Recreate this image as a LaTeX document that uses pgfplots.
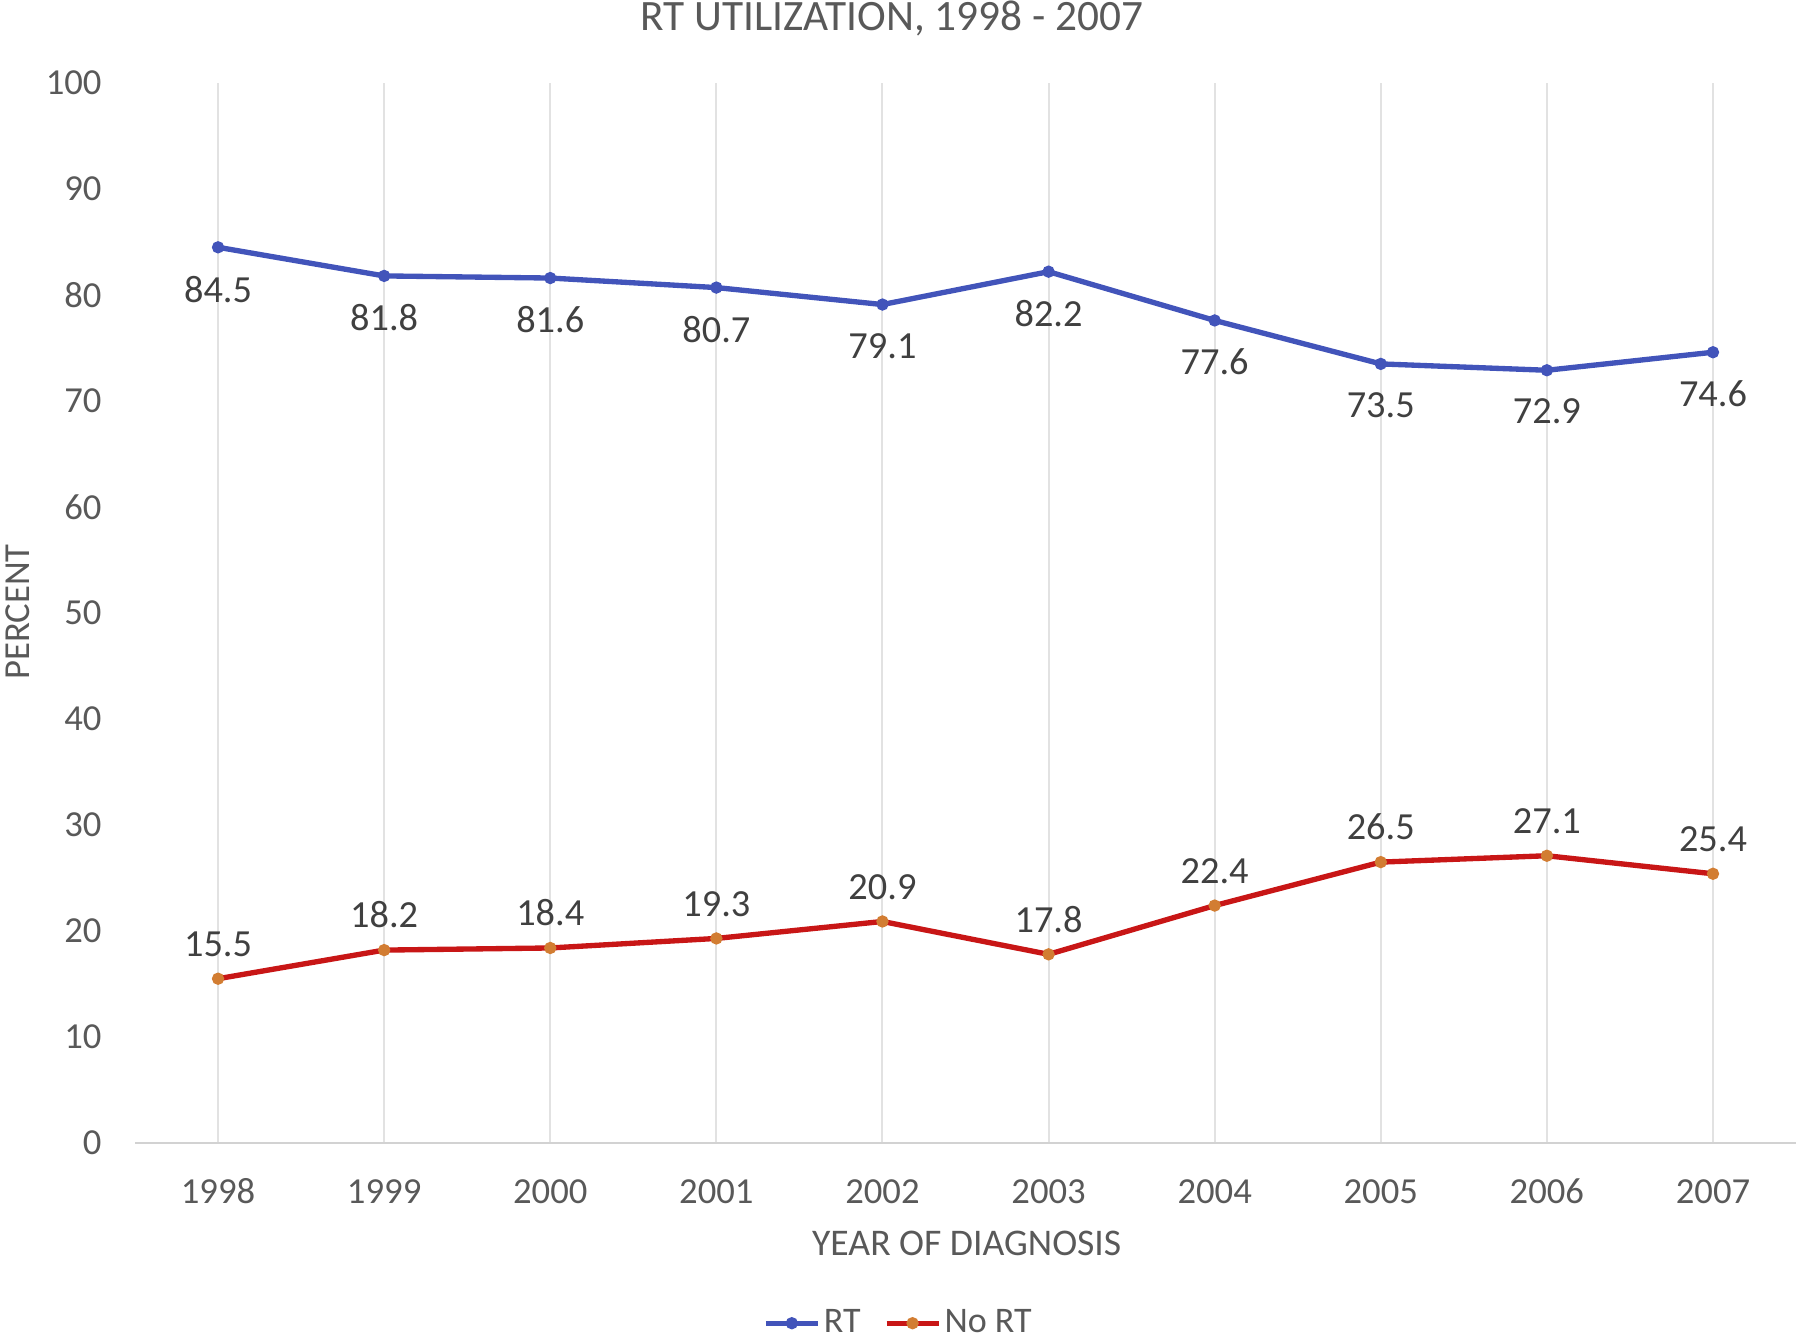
\documentclass[border=0pt]{standalone}
\usepackage{fontspec}
\setmainfont{Carlito}
\usepackage{pgfplots}
\pgfplotsset{compat=1.18}
\definecolor{txt}{RGB}{89,89,89}
\definecolor{lbl}{RGB}{64,64,64}
\definecolor{rtblue}{RGB}{66,84,186}
\definecolor{nored}{RGB}{200,22,22}
\definecolor{noorange}{RGB}{210,125,50}
\definecolor{gridc}{RGB}{226,226,226}
\definecolor{axisc}{RGB}{210,210,210}
\begin{document}
\begin{tikzpicture}[x=1pt,y=1pt]
\useasboundingbox (0,0) rectangle (540,402.6);
\begin{axis}[
  at={(40.5pt,59.7pt)}, anchor=south west,
  scale only axis, width=498.3pt, height=318pt,
  xmin=-0.5, xmax=9.5, ymin=0, ymax=100,
  xtick={0,...,9},
  xticklabels={1998,1999,2000,2001,2002,2003,2004,2005,2006,2007},
  ytick={0,10,...,100},
  axis lines*=left,
  x axis line style={draw=axisc, line width=0.7pt},
  y axis line style={draw=none},
  xmajorgrids, grid style={draw=gridc, line width=0.6pt},
  major tick length=0pt,
  /pgf/number format/assume math mode=true,
  tick label style={font=\fontsize{11}{13}\selectfont, text=txt},
  xticklabel style={anchor=base, yshift=-18pt},
  yticklabel style={anchor=east, xshift=-6.5pt},
  clip=false,
  nodes near coords,
  nodes near coords style={font=\fontsize{11.5}{13}\selectfont, text=lbl,
    /pgf/number format/fixed, /pgf/number format/fixed zerofill,
    /pgf/number format/precision=1, /pgf/number format/assume math mode=true},
  legend columns=2,
  legend style={at={(0.4600,-0.1700)}, anchor=center, draw=none, fill=none,
    font=\fontsize{10.8}{12}\selectfont, text=txt,
    nodes={inner sep=1pt},
    /tikz/every even column/.append style={column sep=6pt},
    inner sep=0pt},
  legend image code/.code={
    \draw[#1, mark=none] (0pt,0pt) -- (15.6pt,0pt);
    \draw[#1, only marks] plot coordinates {(7.8pt,0pt)};
  },
]
\addplot[rtblue, line width=1.6pt, mark=*, mark size=1.6pt,
  mark options={fill=rtblue, draw=rtblue, line width=0.5pt},
  nodes near coords align={below}, every node near coord/.append style={yshift=-5pt}]
  coordinates {(0,84.5) (1,81.8) (2,81.6) (3,80.7) (4,79.1) (5,82.2) (6,77.6) (7,73.5) (8,72.9) (9,74.6)};
\addlegendentry{RT}
\addplot[nored, line width=1.6pt, mark=*, mark size=1.6pt,
  mark options={fill=noorange, draw=noorange, line width=0.5pt},
  nodes near coords align={above}, every node near coord/.append style={yshift=3pt}]
  coordinates {(0,15.5) (1,18.2) (2,18.4) (3,19.3) (4,20.9) (5,17.8) (6,22.4) (7,26.5) (8,27.1) (9,25.4)};
\addlegendentry{No RT}
\end{axis}
\node[anchor=base, font=\fontsize{13}{15}\selectfont, text=txt] at (267.6,393.3) {RT UTILIZATION, 1998 - 2007};
\node[anchor=center, font=\fontsize{11.3}{13}\selectfont, text=txt] at (290,29.7) {YEAR OF DIAGNOSIS};
\node[anchor=center, rotate=90, font=\fontsize{11}{13}\selectfont, text=txt] at (5.2,219) {PERCENT};
\end{tikzpicture}
\end{document}
